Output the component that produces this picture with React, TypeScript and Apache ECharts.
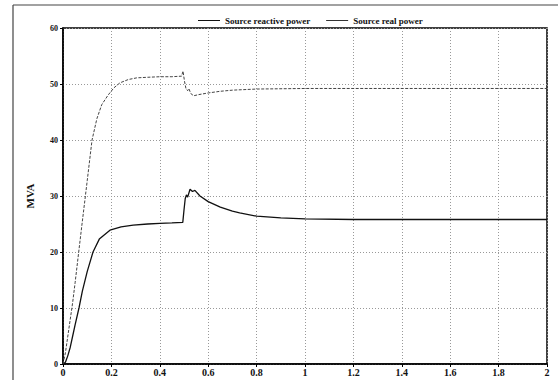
import React, { useEffect, useRef } from "react";
import * as echarts from "echarts";

const xTicks = [0, 0.2, 0.4, 0.6, 0.8, 1, 1.2, 1.4, 1.6, 1.8, 2];
const yTicks = [0, 10, 20, 30, 40, 50, 60];
const seriesNames = ["Source reactive power", "Source real power"];

const upperT = [0, 0.01, 0.02, 0.03, 0.04, 0.05, 0.066, 0.08, 0.1, 0.12, 0.14, 0.16, 0.186, 0.21, 0.235, 0.27, 0.305, 0.35, 0.4, 0.45, 0.49, 0.496, 0.502, 0.508, 0.515, 0.52, 0.528, 0.54, 0.56, 0.6, 0.65, 0.7, 0.8, 1.0, 1.5, 2];
const upperV = [0, 2, 5, 8, 11, 14.5, 20.4, 25.5, 32.7, 40, 43.8, 46.3, 48, 49.3, 50.2, 50.8, 51.1, 51.2, 51.3, 51.3, 51.4, 52.3, 50.5, 49.2, 48.8, 49.2, 48.3, 47.9, 48.1, 48.4, 48.7, 48.9, 49.1, 49.2, 49.2, 49.2];

const lowerT = [0, 0.01, 0.02, 0.03, 0.04, 0.05, 0.066, 0.08, 0.1, 0.124, 0.15, 0.194, 0.24, 0.29, 0.35, 0.4, 0.45, 0.495, 0.5, 0.505, 0.51, 0.515, 0.525, 0.535, 0.545, 0.566, 0.6, 0.65, 0.7, 0.73, 0.8, 0.9, 1.0, 1.2, 2];
const lowerV = [0, 0.3, 1.5, 3, 5, 7, 10, 13, 16.5, 20, 22.3, 23.9, 24.5, 24.8, 25, 25.1, 25.2, 25.3, 27.5, 29.5, 30.2, 29.8, 31.2, 30.8, 31, 30, 29, 28, 27.3, 27, 26.4, 26.1, 25.9, 25.8, 25.8];

const FONT = "Liberation Serif";

export default function App() {
  const ref = useRef<HTMLDivElement>(null);
  useEffect(() => {
    if (!ref.current) return;
    const chart = echarts.init(ref.current, null, { renderer: "svg" });
    const pairs = (t: number[], v: number[]) => t.map((x, i) => [x, v[i]]);
    chart.setOption({
      animation: false,
      backgroundColor: "#fff",
      textStyle: { fontFamily: FONT },
      legend: {
        top: 11,
        left: 193,
        itemWidth: 22,
        itemHeight: 1,
        itemGap: 16,
        textStyle: { fontFamily: FONT, fontSize: 9, fontWeight: "bold", color: "#111" },
        data: seriesNames.map((n) => ({ name: n, icon: "rect" })),
      },
      grid: {
        left: 63,
        right: 11,
        top: 28,
        bottom: 16,
        show: true,
        borderColor: "#000",
        borderWidth: 1.5,
        containLabel: false,
      },
      xAxis: {
        type: "value",
        min: 0,
        max: 2,
        interval: 0.2,
        axisLine: { lineStyle: { color: "#000", width: 1.5 } },
        axisTick: { show: true, length: 3, inside: false, lineStyle: { color: "#000" } },
        axisLabel: {
          fontFamily: FONT,
          fontSize: 10,
          fontWeight: "bold",
          color: "#111",
          margin: 3,
          formatter: (v: number) => {
            const m = xTicks.find((t) => Math.abs(t - v) < 1e-6);
            return m === undefined ? "" : String(m);
          },
        },
        splitLine: { show: true, lineStyle: { color: "#999", type: [1, 2], width: 1 } },
      },
      yAxis: {
        type: "value",
        min: 0,
        max: 60,
        interval: 10,
        name: "MVA",
        nameLocation: "middle",
        nameGap: 28,
        nameTextStyle: { fontFamily: FONT, fontSize: 11, fontWeight: "bold", color: "#111" },
        axisLine: { show: true, lineStyle: { color: "#000", width: 1.5 } },
        axisTick: { show: true, length: 3, lineStyle: { color: "#000" } },
        axisLabel: {
          fontFamily: FONT,
          fontSize: 8,
          fontWeight: "bold",
          color: "#111",
          margin: 5,
          formatter: (v: number) => (yTicks.includes(v) ? String(v) : ""),
        },
        splitLine: { show: true, lineStyle: { color: "#999", type: [1, 2], width: 1 } },
      },
      graphic: [
        { type: "line", shape: { x1: 13, y1: 5, x2: 13, y2: 380 }, style: { stroke: "#444", lineWidth: 1.2 } },
        { type: "line", shape: { x1: 13, y1: 5, x2: 558, y2: 5 }, style: { stroke: "#444", lineWidth: 1.2 } },
      ],
      series: [
        {
          name: seriesNames[0],
          type: "line",
          symbol: "none",
          data: pairs(lowerT, lowerV),
          lineStyle: { color: "#111", width: 1.3 },
          itemStyle: { color: "#111" },
        },
        {
          name: seriesNames[1],
          type: "line",
          symbol: "none",
          data: pairs(upperT, upperV),
          lineStyle: { color: "#444", width: 1, type: [3, 1.5] },
          itemStyle: { color: "#333" },
        },
      ],
    });
    return () => chart.dispose();
  }, []);
  return <div ref={ref} style={{ width: 558, height: 380, position: "absolute", left: 0, top: 0 }} />;
}
